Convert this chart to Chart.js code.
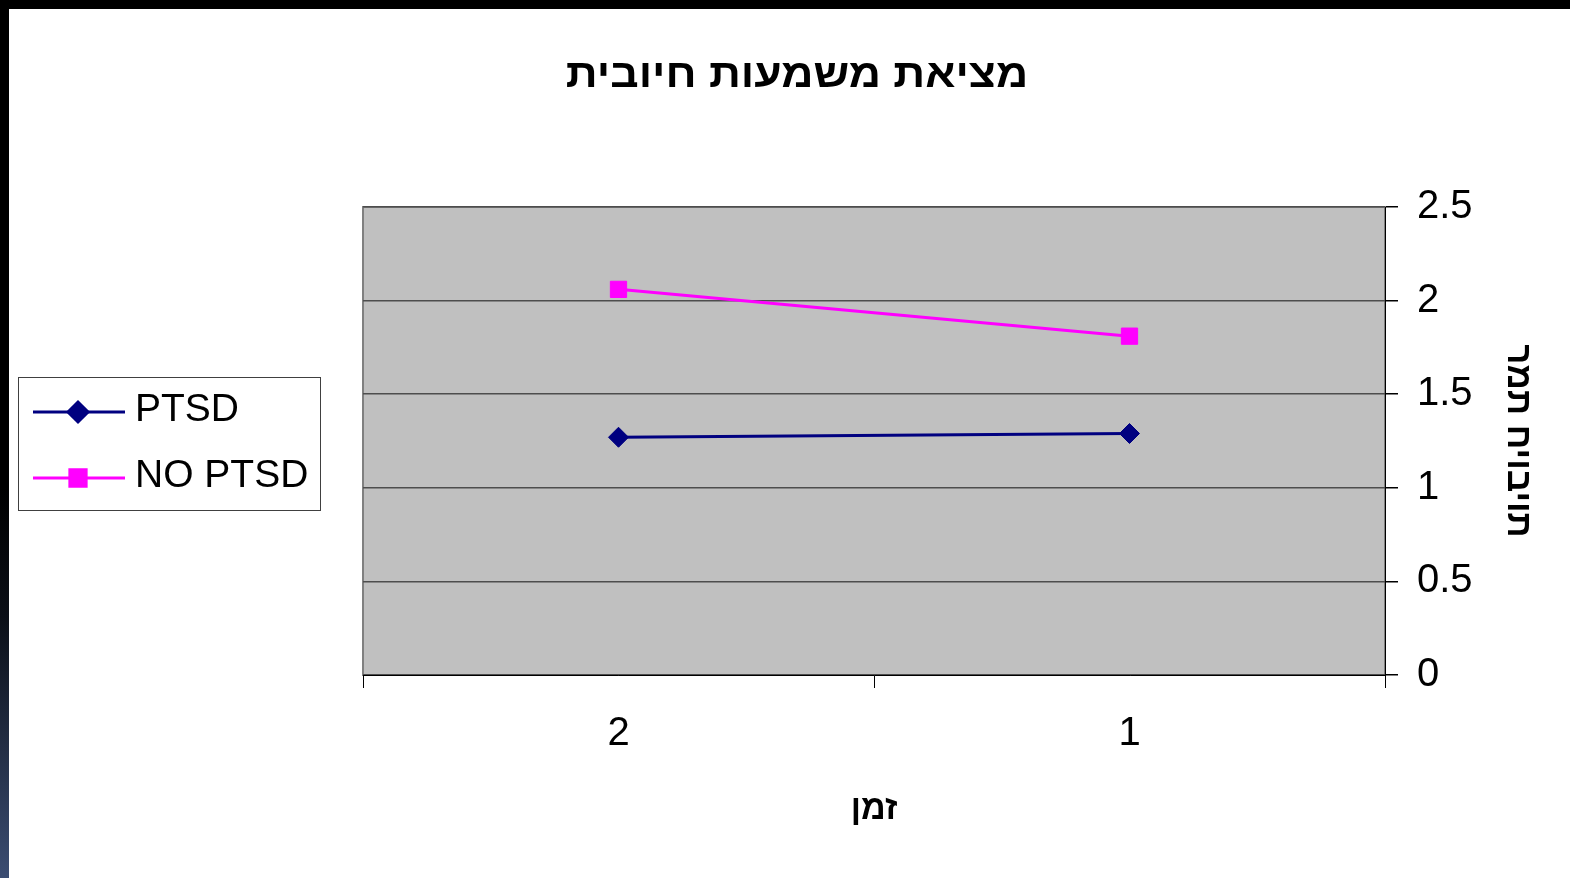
<!DOCTYPE html>
<html>
<head>
<meta charset="utf-8">
<script src="https://cdn.jsdelivr.net/npm/chart.js@4/dist/chart.umd.min.js"></script>
<style>
  html, body { margin: 0; padding: 0; }
  body { width: 1570px; height: 878px; background: #000; position: relative; overflow: hidden; }
  #strip { position: absolute; left: 0; top: 9px; width: 9px; height: 869px;
           background: linear-gradient(to bottom, #000 0%, #000 55%, #0b0f17 70%, #3b4d72 100%); }
  #panel { position: absolute; left: 9px; top: 9px; width: 1561px; height: 869px; background: #fff; }
  canvas { display: block; }
</style>
</head>
<body>
<div id="strip"></div>
<div id="panel"><canvas id="c" width="1561" height="869"></canvas></div>
<script>
// ---- data ----
const titleText = 'מציאת משמעות חיובית';
const xTitle = 'זמן';
const yTitle = 'רמת חיוביות';
const categories = ['1', '2'];
const ptsdValues = [1.29, 1.27];
const noPtsdValues = [1.81, 2.06];
const seriesNames = ['PTSD', 'NO PTSD'];

const FONT = '"Liberation Sans", Arial, sans-serif';

const plotBg = {
  id: 'plotBg',
  beforeDraw(chart) {
    const { ctx, chartArea: a } = chart;
    ctx.save();
    ctx.fillStyle = '#C0C0C0';
    ctx.fillRect(a.left, a.top, a.right - a.left, a.bottom - a.top);
    ctx.strokeStyle = '#808080';
    ctx.lineWidth = 2;
    ctx.strokeRect(a.left, a.top, a.right - a.left, a.bottom - a.top);
    ctx.restore();
  }
};

const chartTitle = {
  id: 'chartTitle',
  afterDraw(chart) {
    const ctx = chart.ctx;
    ctx.save();
    ctx.translate(788, 78);
    ctx.scale(1.11, 1);
    ctx.fillStyle = '#000';
    ctx.font = 'bold 40px ' + FONT;
    ctx.textAlign = 'center';
    ctx.textBaseline = 'alphabetic';
    ctx.fillText(titleText, 0, 0);
    ctx.restore();
  }
};

const boxLegend = {
  id: 'boxLegend',
  afterDraw(chart) {
    const ctx = chart.ctx;
    ctx.save();
    ctx.fillStyle = '#fff';
    ctx.fillRect(9.5, 368.5, 302, 133);
    ctx.strokeStyle = '#404040';
    ctx.lineWidth = 1;
    ctx.strokeRect(9.5, 368.5, 302, 133);
    const rows = [403, 469];
    chart.data.datasets.forEach((ds, i) => {
      const y = rows[i];
      ctx.strokeStyle = ds.borderColor;
      ctx.lineWidth = 3;
      ctx.beginPath();
      ctx.moveTo(24, y);
      ctx.lineTo(116, y);
      ctx.stroke();
      ctx.fillStyle = ds.pointBackgroundColor;
      ctx.strokeStyle = ds.pointBorderColor;
      Chart.helpers.drawPoint(ctx, { pointStyle: ds.pointStyle, radius: ds.pointRadius, rotation: 0, borderWidth: 1 }, 69, y);
      ctx.fillStyle = '#000';
      ctx.font = '39px ' + FONT;
      ctx.textBaseline = 'middle';
      ctx.textAlign = 'left';
      ctx.fillText(ds.label, 126, y - 2);
    });
    ctx.restore();
  }
};

new Chart(document.getElementById('c'), {
  type: 'line',
  data: {
    labels: categories,
    datasets: [
      {
        label: seriesNames[0], data: ptsdValues,
        borderColor: '#000080', backgroundColor: '#000080',
        pointBackgroundColor: '#000080', pointBorderColor: '#000080',
        pointStyle: 'rectRot', pointRadius: 10, borderWidth: 3, pointBorderWidth: 1
      },
      {
        label: seriesNames[1], data: noPtsdValues,
        borderColor: '#FF00FF', backgroundColor: '#FF00FF',
        pointBackgroundColor: '#FF00FF', pointBorderColor: '#FF00FF',
        pointStyle: 'rect', pointRadius: 11.5, borderWidth: 3, pointBorderWidth: 1
      }
    ]
  },
  options: {
    responsive: false,
    animation: false,
    devicePixelRatio: 1,
    layout: { padding: { left: 354, right: 0, top: 198, bottom: 0 } },
    plugins: {
      legend: { display: false },
      tooltip: { enabled: false },
      title: { display: false }
    },
    scales: {
      x: {
        type: 'category',
        reverse: true,
        offset: true,
        afterFit(scale) { scale.height = 203; },
        grid: { offset: true, drawOnChartArea: false, drawTicks: true, tickLength: 13, tickColor: '#000', color: '#000' },
        border: { display: true, color: '#000', width: 1 },
        ticks: { color: '#000', padding: 22, font: { family: FONT, size: 40 } },
        title: {
          display: true, text: xTitle, color: '#000',
          font: { family: FONT, size: 34, weight: 'bold' },
          padding: { top: 0, bottom: 47.6 }
        }
      },
      y: {
        position: 'right',
        min: 0, max: 2.5,
        afterFit(scale) { scale.width = 185; },
        grid: { color: '#4d4d4d', lineWidth: 1.5, drawTicks: true, tickLength: 13, tickColor: '#000' },
        border: { display: true, color: '#000', width: 1 },
        ticks: { stepSize: 0.5, color: '#000', padding: 19, font: { family: FONT, size: 40 },
                 callback: (v) => String(v) },
        title: {
          display: true, text: '\u202D' + yTitle + '\u202C', color: '#000',
          font: { family: FONT, size: 35, weight: 'bold' },
          padding: { top: 31, bottom: 0 }
        }
      }
    }
  },
  plugins: [plotBg, chartTitle, boxLegend]
});
</script>
</body>
</html>
